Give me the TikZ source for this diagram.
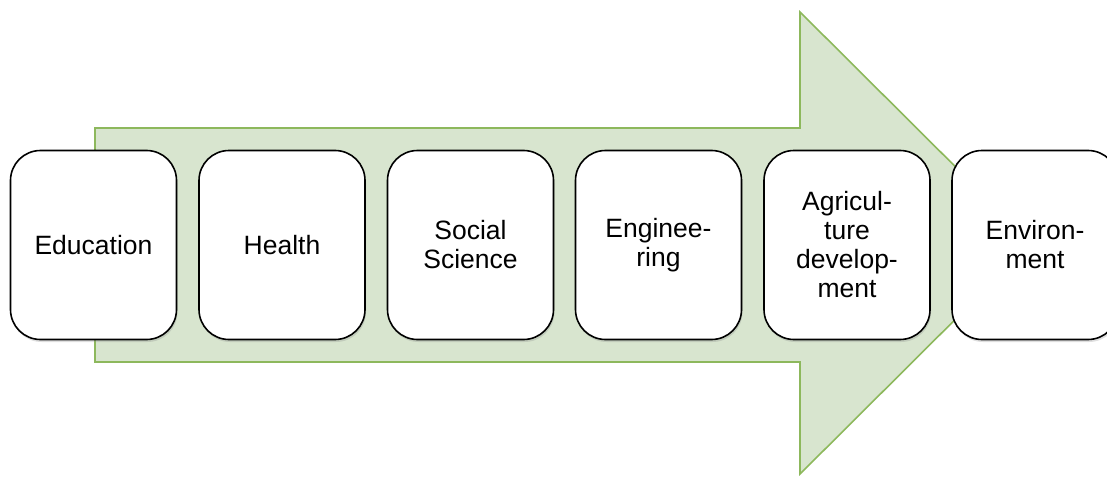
\documentclass[tikz,border=0pt]{standalone}
\usepackage{fontspec}
\setmainfont{Liberation Sans}
\usetikzlibrary{shadows}
\definecolor{arrowfill}{RGB}{216,229,207}
\definecolor{arrowedge}{RGB}{141,184,92}
\tikzset{
  field/.style={draw=black, line width=1.6pt, fill=white, rounded corners=30pt,
    minimum width=166pt, minimum height=189pt, inner sep=0pt, align=center,
    font=\fontsize{26.5}{29}\selectfont,
    drop shadow={opacity=0.25, shadow xshift=1pt, shadow yshift=-2.5pt}},
}
\begin{document}
\begin{tikzpicture}[x=1pt, y=-1pt]
  \useasboundingbox (0,0) rectangle (1107,476);
  % block arrow behind the row of fields
  \draw[fill=arrowfill, draw=arrowedge, line width=1.6pt, line join=miter]
    (95,128) -- (800,128) -- (800,12) -- (1032,243) -- (800,474)
    -- (800,362) -- (95,362) -- cycle;
  % fields
  \node[field] (edu)  at (93.5,245)  {Education};
  \node[field] (hea)  at (282,245)   {Health};
  \node[field] (soc)  at (470.5,245) {Social\\Science};
  \node[field] (eng)  at (658.5,245) {Enginee-\\ring};
  \node[field] (agr)  at (847,245)   {Agricul-\\ture\\develop-\\ment};
  \node[field] (env)  at (1035,245)  {Environ-\\ment};
\end{tikzpicture}
\end{document}
